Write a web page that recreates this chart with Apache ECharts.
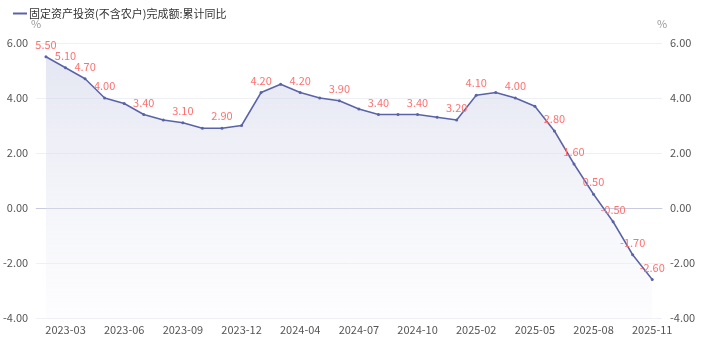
<!DOCTYPE html>
<html>
<head>
<meta charset="utf-8">
<script src="https://cdn.jsdelivr.net/npm/echarts@6/dist/echarts.min.js"></script>
<style>
  html, body { margin: 0; padding: 0; background: #fff; }
  #chart { width: 703px; height: 343px; }
</style>
</head>
<body>
<div id="chart"></div>
<script>
// Monthly cumulative periods (January is reported together with February)
const months = [
  '2023-02','2023-03','2023-04','2023-05','2023-06','2023-07','2023-08','2023-09','2023-10','2023-11','2023-12',
  '2024-02','2024-03','2024-04','2024-05','2024-06','2024-07','2024-08','2024-09','2024-10','2024-11','2024-12',
  '2025-02','2025-03','2025-04','2025-05','2025-06','2025-07','2025-08','2025-09','2025-10','2025-11'
];
// Fixed-asset investment (excl. rural households), cumulative YoY, %
const faiYoY = [
  5.5, 5.1, 4.7, 4.0, 3.8, 3.4, 3.2, 3.1, 2.9, 2.9, 3.0,
  4.2, 4.5, 4.2, 4.0, 3.9, 3.6, 3.4, 3.4, 3.4, 3.3, 3.2,
  4.1, 4.2, 4.0, 3.7, 2.8, 1.6, 0.5, -0.5, -1.7, -2.6
];
const seriesName = '固定资产投资(不含农户)完成额:累计同比';
const unitName = '%';

const font = '"Microsoft YaHei", "Noto Sans CJK SC", sans-serif';
const chart = echarts.init(document.getElementById('chart'));

const yAxisBase = {
  type: 'value',
  name: unitName,
  min: -4,
  max: 6,
  interval: 2,
  nameTextStyle: { color: '#999', fontSize: 11, fontFamily: font },
  axisLine: { show: false },
  axisTick: { show: false },
  axisLabel: { color: '#555', fontSize: 11, fontFamily: font, formatter: v => v.toFixed(2) },
  splitLine: { lineStyle: { color: '#eef0f6' } }
};

chart.setOption({
  animation: false,
  legend: {
    left: 8,
    top: 3,
    itemWidth: 14,
    itemHeight: 2,
    itemGap: 6,
    icon: 'rect',
    textStyle: { color: '#333', fontSize: 11, fontFamily: font, padding: [0, 0, 0, -3] }
  },
  grid: { left: 35, right: 41, top: 43, bottom: 25, containLabel: false },
  xAxis: {
    type: 'category',
    data: months,
    boundaryGap: true,
    axisLine: { lineStyle: { color: '#c8cbe0' } },
    axisTick: { show: false },
    axisLabel: {
      color: '#555',
      fontSize: 11,
      fontFamily: font,
      margin: 6,
      interval: (i) => (i - 1) % 3 === 0
    },
    splitLine: { show: false }
  },
  yAxis: [
    Object.assign({}, yAxisBase, { position: 'left', nameGap: 14 }),
    Object.assign({}, yAxisBase, { position: 'right', nameGap: 14, splitLine: { show: false } })
  ],
  series: [{
    name: seriesName,
    type: 'line',
    data: faiYoY,
    symbol: 'circle',
    symbolSize: 3,
    lineStyle: { color: '#5a63a6', width: 1.5 },
    itemStyle: { color: '#5a63a6' },
    areaStyle: {
      origin: 'start',
      color: new echarts.graphic.LinearGradient(0, 0, 0, 1, [
        { offset: 0, color: 'rgba(200, 204, 228, 0.7)' },
        { offset: 1, color: 'rgba(246, 247, 251, 0.4)' }
      ])
    },
    label: {
      show: true,
      position: 'top',
      distance: 5,
      color: '#ff7070',
      fontSize: 11,
      fontFamily: font,
      formatter: p => p.value.toFixed(2)
    },
    labelLayout: { hideOverlap: true }
  }]
});
</script>
</body>
</html>
